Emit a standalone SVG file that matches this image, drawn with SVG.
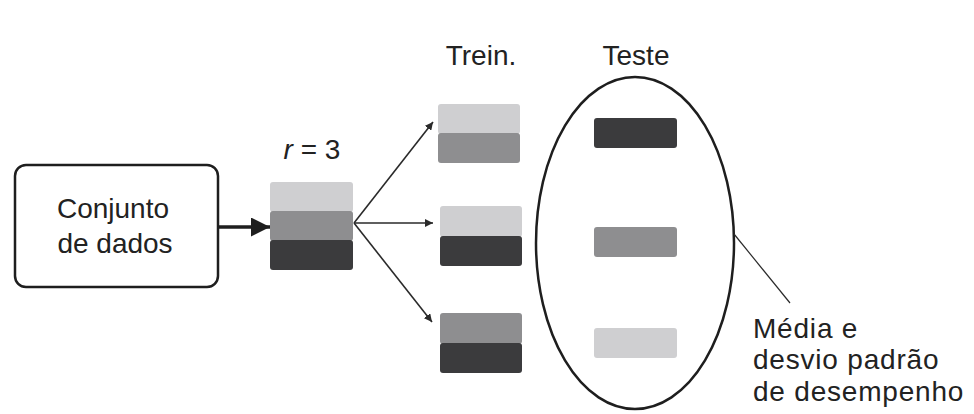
<svg xmlns="http://www.w3.org/2000/svg" width="974" height="414" viewBox="0 0 974 414">
  <style>
    .lbl { font-family: "Liberation Sans", Arial, sans-serif; font-size: 28px; fill: #222222; }
    .note { font-size: 28px; letter-spacing: 0.8px; }
    .light { fill: #cfcfd1; }
    .mid { fill: #8e8e90; }
    .dark { fill: #3b3b3d; }
    .edge { stroke: #2a2a2a; stroke-width: 1.6; fill: none; }
  </style>
  <defs>
    <marker id="head" viewBox="0 0 10 10" refX="10" refY="5" markerWidth="8" markerHeight="8" markerUnits="userSpaceOnUse" orient="auto">
      <path d="M0,0 L10,5 L0,10 z" fill="#2a2a2a"/>
    </marker>
    <marker id="headBig" viewBox="0 0 10 10" refX="10" refY="5" markerWidth="19" markerHeight="19" markerUnits="userSpaceOnUse" orient="auto">
      <path d="M0,0 L10,5 L0,10 z" fill="#1e1e1e"/>
    </marker>
  </defs>
  <rect width="974" height="414" fill="#ffffff"/>

  <!-- dataset box -->
  <g id="dataset">
    <rect x="15" y="165" width="203" height="122" rx="11" fill="#ffffff" stroke="#1e1e1e" stroke-width="2.5"/>
    <text class="lbl" x="113" y="218" text-anchor="middle">Conjunto</text>
    <text class="lbl" x="115" y="253" text-anchor="middle">de dados</text>
  </g>

  <!-- partitioned stack, r = 3 -->
  <g id="folds">
    <text class="lbl" x="312" y="159" text-anchor="middle"><tspan font-style="italic">r</tspan> = 3</text>
    <rect class="light" x="270" y="182" width="83" height="30" rx="3"/>
    <rect class="mid" x="270" y="211" width="83" height="30" rx="3"/>
    <rect class="dark" x="270" y="240" width="83" height="30" rx="3"/>
  </g>

  <!-- training sets -->
  <g id="train">
    <text class="lbl" x="481" y="65" text-anchor="middle">Trein.</text>
    <g id="train1">
      <rect class="light" x="438" y="104" width="82" height="30" rx="3"/>
      <rect class="mid" x="438" y="133" width="82" height="30" rx="3"/>
    </g>
    <g id="train2">
      <rect class="light" x="440" y="206" width="82" height="31" rx="3"/>
      <rect class="dark" x="440" y="236" width="82" height="30" rx="3"/>
    </g>
    <g id="train3">
      <rect class="mid" x="440" y="313" width="82" height="31" rx="3"/>
      <rect class="dark" x="440" y="343" width="82" height="30" rx="3"/>
    </g>
  </g>

  <!-- test sets -->
  <g id="test">
    <text class="lbl" x="636" y="65" text-anchor="middle">Teste</text>
    <ellipse cx="635" cy="243" rx="99" ry="166" fill="none" stroke="#1e1e1e" stroke-width="2.5"/>
    <rect class="dark" x="594" y="118" width="83" height="30" rx="3"/>
    <rect class="mid" x="594" y="227" width="83" height="30" rx="3"/>
    <rect class="light" x="594" y="328" width="83" height="30" rx="3"/>
  </g>

  <!-- result label -->
  <g id="result">
    <text class="lbl note"><tspan x="753" y="337.5">Média e</tspan><tspan x="753" y="369">desvio padrão</tspan><tspan x="753" y="400.5">de desempenho</tspan></text>
  </g>

  <!-- connectors -->
  <g id="connectors">
    <line x1="218" y1="227" x2="270" y2="227" stroke="#1e1e1e" stroke-width="3.5" marker-end="url(#headBig)"/>
    <line class="edge" x1="354" y1="223" x2="433" y2="122" marker-end="url(#head)"/>
    <line class="edge" x1="354" y1="223" x2="433" y2="223" marker-end="url(#head)"/>
    <line class="edge" x1="354" y1="223" x2="432" y2="322" marker-end="url(#head)"/>
    <line x1="734" y1="234" x2="790" y2="303" stroke="#2a2a2a" stroke-width="1.2"/>
  </g>
</svg>
